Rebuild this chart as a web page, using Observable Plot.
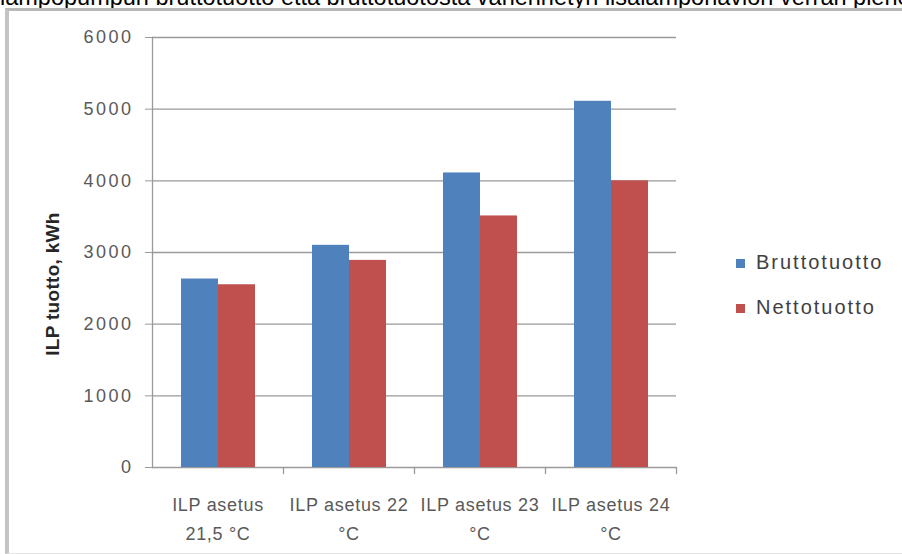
<!DOCTYPE html>
<html>
<head>
<meta charset="utf-8">
<script src="https://cdn.jsdelivr.net/npm/d3@7"></script>
<script src="https://cdn.jsdelivr.net/npm/@observablehq/plot@0.6"></script>
<style>
  html, body { margin: 0; padding: 0; background: #fff; overflow: hidden; }
  #page { position: relative; width: 902px; height: 554px; overflow: hidden; font-family: "Liberation Sans", Arial, sans-serif; }
  #cut { position: absolute; left: 0; top: -14px; white-space: nowrap; font-size: 23.5px; line-height: 23.5px; color: #000; }
  #box { position: absolute; left: 5px; top: 8px; width: 910px; height: 542px; border-left: 4px solid #c4c4c4; border-top: 3px solid #b8b8b8; border-bottom: 1px solid #e4e4e4; background: #fff; }
  #chart { position: absolute; left: 0; top: 0; }
  #chart g[aria-label="y-axis tick label"] text { letter-spacing: 2.5px; }
  #chart g[aria-label="fx-axis tick label"] text { letter-spacing: 0.7px; }
  #ytitle { position: absolute; left: 53px; top: 284px; transform: translate(-50%, -50%) rotate(-90deg); white-space: nowrap; font-weight: bold; font-size: 19px; letter-spacing: 0.3px; color: #262626; }
  .leg { position: absolute; left: 736px; font-size: 20px; letter-spacing: 2px; color: #404040; white-space: nowrap; line-height: 20px; }
  .leg span { display: inline-block; width: 9px; height: 9px; margin-right: 11px; vertical-align: 1px; }
</style>
</head>
<body>
<div id="page">
  <div id="cut">lämpöpumpun bruttotuotto että bruttotuotosta vähennetyn lisälämpöhäviön verran pienempi nettotuotto</div>
  <div id="box"></div>
  <div id="chart"></div>
  <div id="ytitle">ILP tuotto, kWh</div>
  <div id="legend"></div>
</div>
<script>
const categories = ["ILP asetus 21,5 °C", "ILP asetus 22 °C", "ILP asetus 23 °C", "ILP asetus 24 °C"];
const tickLabels = ["ILP asetus\n21,5 °C", "ILP asetus 22\n°C", "ILP asetus 23\n°C", "ILP asetus 24\n°C"];
const seriesNames = ["Bruttotuotto", "Nettotuotto"];
const seriesColors = ["#4F81BD", "#C0504D"];
const bruttotuotto = [2630, 3100, 4110, 5110];
const nettotuotto = [2550, 2890, 3510, 4000];
const yTicks = [0, 1000, 2000, 3000, 4000, 5000, 6000];

const rows = [];
categories.forEach((c, i) => {
  rows.push({category: c, series: seriesNames[0], value: bruttotuotto[i]});
  rows.push({category: c, series: seriesNames[1], value: nettotuotto[i]});
});
const labelOf = new Map(categories.map((c, i) => [c, tickLabels[i]]));

const chart = Plot.plot({
  width: 700,
  height: 554,
  marginLeft: 150,
  marginRight: 23,
  marginTop: 37,
  marginBottom: 87,
  style: {background: "transparent", color: "#595959", fontFamily: "'Liberation Sans', Arial, sans-serif"},
  fx: {domain: categories, paddingInner: 0, paddingOuter: 0, axis: null},
  x: {domain: seriesNames, paddingInner: 0, paddingOuter: 0.73, axis: null},
  y: {domain: [0, 6000], axis: null},
  color: {domain: seriesNames, range: seriesColors},
  marks: [
    Plot.gridY(yTicks, {stroke: "#9a9a9a", strokeOpacity: 1, strokeWidth: 1.3}),
    Plot.barY(rows, {fx: "category", x: "series", y: "value", fill: "series"}),
    Plot.frame({anchor: "left", facetAnchor: "left", stroke: "#9a9a9a", strokeWidth: 1.3}),
    Plot.frame({anchor: "right", insetTop: 430, insetBottom: -6, stroke: "#9a9a9a", strokeWidth: 1.3}),
    Plot.axisY({ticks: yTicks, tickSize: 7, tickPadding: 12, fontSize: 18, stroke: "#9a9a9a", label: null, tickFormat: d => String(d)}),
    Plot.axisFx({anchor: "bottom", tickSize: 0, tickPadding: 22, fontSize: 18, lineHeight: 1.65, label: null, tickFormat: d => labelOf.get(d)})
  ]
});
document.getElementById("chart").appendChild(chart);

const legend = document.getElementById("legend");
seriesNames.forEach((s, i) => {
  const d = document.createElement("div");
  d.className = "leg";
  d.style.top = (252 + i * 45) + "px";
  d.innerHTML = `<span style="background:${seriesColors[i]}"></span>${s}`;
  legend.appendChild(d);
});
</script>
</body>
</html>
